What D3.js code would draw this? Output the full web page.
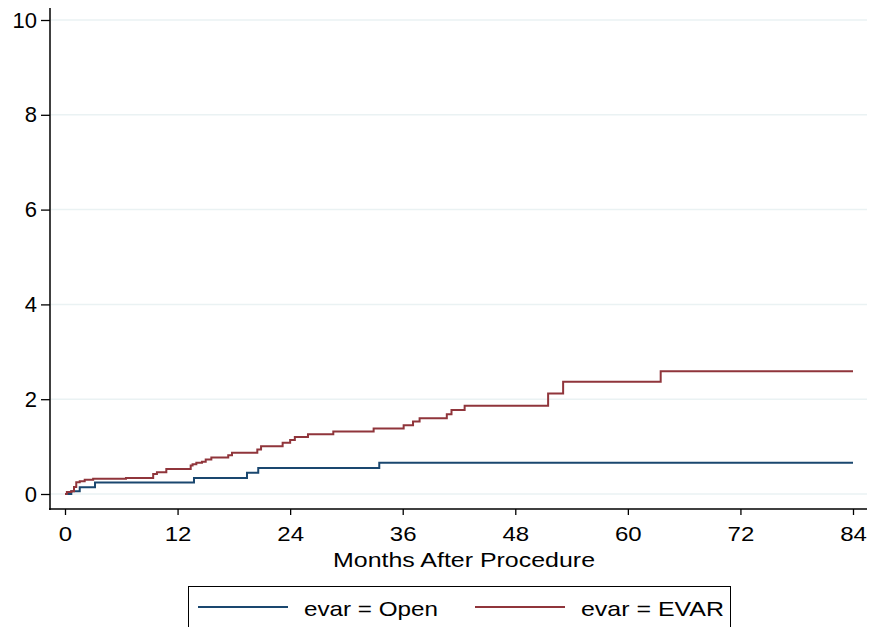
<!DOCTYPE html>
<html>
<head>
<meta charset="utf-8">
<script src="https://cdn.jsdelivr.net/npm/d3@7"></script>
<style>
  body { margin: 0; background: #fff; }
  text { font-family: "Liberation Sans", Arial, sans-serif; fill: #000; }
</style>
</head>
<body>
<div id="chart"></div>
<script>
// cumulative incidence (%) by months after procedure
var openTime  = [0, 0.67, 1.57, 3.2, 13.75, 19.4, 20.6, 33.5, 84];
var openValue = [0, 0.06, 0.14, 0.24, 0.34, 0.45, 0.55, 0.66, 0.66];

var evarTime  = [0, 0.2, 0.67, 0.96, 1.2, 1.57, 2.1, 3.0, 6.5, 9.4, 9.8, 10.8,
                 13.4, 13.6, 14.0, 14.6, 15.0, 15.6, 17.4, 17.8, 20.5, 20.9,
                 23.2, 24.0, 24.5, 25.9, 28.6, 32.9, 36.1, 37.1, 37.8, 40.7,
                 41.2, 42.6, 51.5, 53.1, 63.5, 84];
var evarValue = [0, 0.04, 0.06, 0.15, 0.25, 0.27, 0.30, 0.32, 0.34, 0.42, 0.46, 0.53,
                 0.60, 0.63, 0.66, 0.68, 0.73, 0.77, 0.82, 0.87, 0.94, 1.01,
                 1.08, 1.14, 1.20, 1.26, 1.32, 1.38, 1.45, 1.53, 1.60, 1.68,
                 1.77, 1.86, 2.12, 2.37, 2.59, 2.59];

var xTicks = [0, 12, 24, 36, 48, 60, 72, 84];
var yTicks = [0, 2, 4, 6, 8, 10];
var seriesNames = ["evar = Open", "evar = EVAR"];
var colors = ["#1a476f", "#90353b"];

var width = 869, height = 627;

var svg = d3.select("#chart").append("svg")
    .attr("width", width)
    .attr("height", height);

var x = d3.scaleLinear().domain([0, 84]).range([65, 853]);
var y = d3.scaleLinear().domain([0, 10]).range([494, 20]);

// gridlines
svg.selectAll(".grid")
  .data(yTicks)
  .enter().append("line")
    .attr("x1", 51).attr("x2", 867)
    .attr("y1", function(d) { return y(d); })
    .attr("y2", function(d) { return y(d); })
    .attr("stroke", "#eaf2f3")
    .attr("stroke-width", 1.5);

// y axis
var yAxis = svg.append("g")
    .attr("transform", "translate(50,0)")
    .call(d3.axisLeft(y).tickValues(yTicks).tickSize(9).tickPadding(4));
yAxis.select(".domain").remove();
yAxis.selectAll("text").style("font-size", "22px");
svg.append("line")
    .attr("x1", 50).attr("x2", 50).attr("y1", 8).attr("y2", 510)
    .attr("stroke", "#000").attr("stroke-width", 1.5);

// x axis
var xAxis = svg.append("g")
    .attr("transform", "translate(0,509)")
    .call(d3.axisBottom(x).tickValues(xTicks).tickSize(6).tickPadding(12));
xAxis.select(".domain").remove();
xAxis.selectAll("text")
    .style("font-size", "20px")
    .attr("transform", "scale(1.2,1)");
svg.append("line")
    .attr("x1", 49).attr("x2", 867).attr("y1", 509).attr("y2", 509)
    .attr("stroke", "#000").attr("stroke-width", 1.5);
svg.selectAll(".tick line").attr("stroke-width", 1.3);

svg.append("text")
    .attr("x", 464).attr("y", 567)
    .attr("text-anchor", "middle")
    .attr("textLength", 262)
    .attr("lengthAdjust", "spacingAndGlyphs")
    .style("font-size", "20px")
    .text("Months After Procedure");

// step curves
var line = d3.line()
    .x(function(d) { return x(d[0]); })
    .y(function(d) { return y(d[1]); })
    .curve(d3.curveStepAfter);

var series = [d3.zip(openTime, openValue), d3.zip(evarTime, evarValue)];

svg.selectAll(".curve")
  .data(series)
  .enter().append("path")
    .attr("class", "curve")
    .attr("d", line)
    .attr("fill", "none")
    .attr("stroke", function(d, i) { return colors[i]; })
    .attr("stroke-width", 2);

// legend
var legend = svg.append("g");
legend.append("rect")
    .attr("x", 188.5).attr("y", 586.5)
    .attr("width", 542).attr("height", 60)
    .attr("fill", "#fff")
    .attr("stroke", "#000").attr("stroke-width", 1);

var legX = [198, 475];
seriesNames.forEach(function(name, i) {
  legend.append("line")
      .attr("x1", legX[i]).attr("x2", legX[i] + 90)
      .attr("y1", 607).attr("y2", 607)
      .attr("stroke", colors[i]).attr("stroke-width", 2);
  legend.append("text")
      .attr("x", legX[i] + 106).attr("y", 616)
      .attr("textLength", i === 0 ? 134 : 143)
      .attr("lengthAdjust", "spacingAndGlyphs")
      .style("font-size", "21px")
      .text(name);
});
</script>
</body>
</html>
